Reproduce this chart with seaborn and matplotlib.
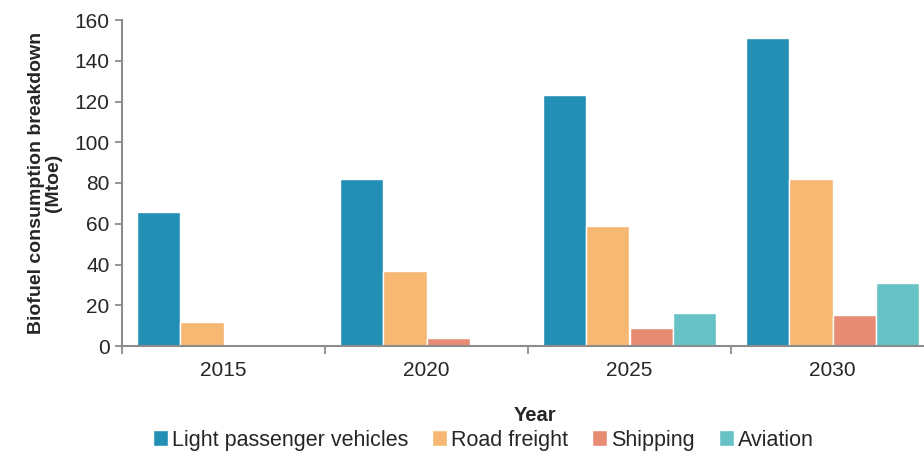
import pandas as pd
import seaborn as sns
import matplotlib.pyplot as plt
from matplotlib.ticker import FixedLocator

# --- DATA ---
years = ["2015", "2020", "2025", "2030"]
light_passenger = [66, 82, 123, 151]
road_freight = [12, 37, 59, 82]
shipping = [0, 4, 9, 15]
aviation = [0, 0, 16, 31]

series_names = ["Light passenger vehicles", "Road freight", "Shipping", "Aviation"]
colors = ["#238fb5", "#f6b873", "#e88b74", "#67c2c6"]

rows = []
for name, vals in zip(series_names, [light_passenger, road_freight, shipping, aviation]):
    for y, v in zip(years, vals):
        rows.append({"Year": y, "Sector": name, "Value": v})
df = pd.DataFrame(rows)

# --- PLOTTING ---
sns.set_theme(style="white")
plt.rcParams['font.family'] = ['Liberation Sans', 'DejaVu Sans']
grey = "#8c8c8c"
txt = "#262626"

fig = plt.figure(figsize=(9.24, 4.55), dpi=100)
ax = fig.add_axes([122 / 924, 109 / 455, 812 / 924, 326 / 455])

sns.barplot(data=df, x="Year", y="Value", hue="Sector", palette=colors,
            width=0.85, saturation=1, ax=ax, legend=True)

ax.set_ylim(0, 160)
ax.set_xlim(-0.5, 3.5)
ax.set_yticks(range(0, 161, 20))
sns.despine(ax=ax)
for s in ["left", "bottom"]:
    ax.spines[s].set_color(grey)
    ax.spines[s].set_linewidth(1.5)

ax.tick_params(axis='y', which='major', length=5, width=1.3, color=grey,
               labelsize=15, labelcolor=txt, left=True, pad=4)
ax.tick_params(axis='x', which='major', length=0, labelsize=15, labelcolor=txt, pad=11)
ax.xaxis.set_minor_locator(FixedLocator([-0.5, 0.5, 1.5, 2.5, 3.5]))
ax.tick_params(axis='x', which='minor', length=6, width=1.3, color=grey, bottom=True)

ax.set_ylabel("Biofuel consumption breakdown\n(Mtoe)", fontsize=14,
              fontweight='bold', color=txt, linespacing=1.0)
ax.yaxis.set_label_coords(-0.074, 0.5)
ax.set_xlabel("Year", fontsize=14.5, fontweight='bold', color=txt)
ax.xaxis.set_label_coords(0.509, -0.185)

ax.legend(loc='lower center', bbox_to_anchor=(0.445, -0.38), ncol=4, frameon=False,
          fontsize=15.5, handlelength=0.7, handleheight=0.7, handletextpad=0.2,
          columnspacing=1.1, labelcolor=txt)

fig.savefig("out.png", dpi=100)
plt.close(fig)
